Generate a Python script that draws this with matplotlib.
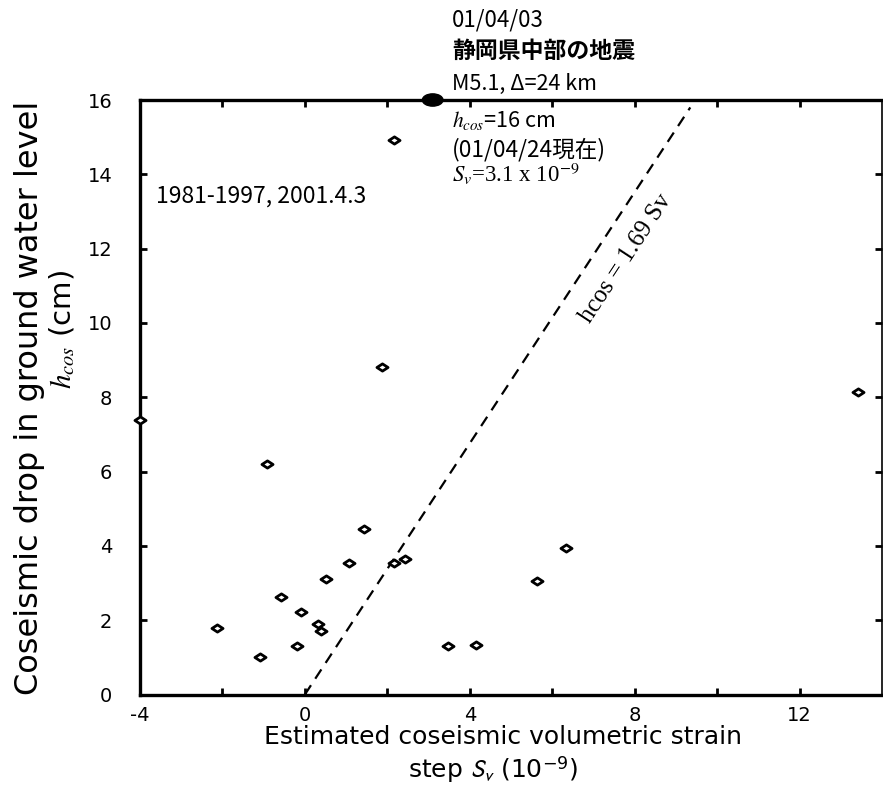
import numpy as np
import matplotlib
matplotlib.use("Agg")
import matplotlib.pyplot as plt
from matplotlib.path import Path
from matplotlib.patches import Ellipse

# coseismic strain step (1e-9) vs. water level drop (cm), 1981-1997 + 2001.4.3
sv = [-4.0, -2.12, -1.08, -0.92, -0.59, -0.19, -0.10, 0.32, 0.39, 0.50,
      1.08, 1.44, 1.86, 2.15, 2.15, 2.43, 3.47, 4.16, 5.64, 6.34, 13.41]
h_cos = [7.4, 1.80, 1.01, 6.20, 2.62, 1.31, 2.21, 1.91, 1.71, 3.12,
         3.54, 4.45, 8.82, 14.93, 3.54, 3.64, 1.31, 1.33, 3.06, 3.94, 8.14]

# 2001/04/03 event
event_sv = 3.1
event_h = 16.0

slope = 1.69
fit_top = 15.8

x_major = [-4, 0, 4, 8, 12]
x_minor = [-2, 2, 6, 10]
y_ticks = [0, 2, 4, 6, 8, 10, 12, 14, 16]

plt.rcParams["font.family"] = ["DejaVu Sans"]
JP = ["Noto Sans CJK JP", "DejaVu Sans"]

fig = plt.figure(figsize=(8.83, 8.0), dpi=100)
W, H = 883, 800
ax = fig.add_axes([140 / W, 1 - 694.5 / H, (882 - 140) / W, (694.5 - 100) / H])

ax.set_xlim(-4, 14)
ax.set_ylim(0, 16)

for s in ax.spines.values():
    s.set_linewidth(2.4)
ax.spines["right"].set_linewidth(1.2)

ax.set_xticks(x_major)
ax.set_xticks(x_minor, minor=True)
ax.set_yticks(y_ticks)
ax.set_xticklabels([str(v) for v in x_major])
ax.tick_params(axis="both", which="both", direction="in", length=5, width=2,
               top=True, right=True, labelsize=14)
ax.tick_params(axis="x", pad=8)
ax.tick_params(axis="y", pad=20)

# wide open diamond
diamond = Path([(-1, 0), (0, 0.65), (1, 0), (0, -0.65), (-1, 0)],
               [Path.MOVETO, Path.LINETO, Path.LINETO, Path.LINETO, Path.CLOSEPOLY])
ax.plot(sv, h_cos, linestyle="none", marker=diamond, markersize=8,
        markerfacecolor="white", markeredgecolor="black", markeredgewidth=2.0,
        clip_on=False, zorder=4)

ax.add_patch(Ellipse((event_sv, event_h), 0.5, 0.33, facecolor="black",
                     edgecolor="black", clip_on=False, zorder=5))

# fitted relation
fx = np.array([0, fit_top / slope])
ax.plot(fx, slope * fx, color="black", linestyle=(0, (5, 3.5)), linewidth=1.6)
ax.text(7.55, 11.9, r"hcos = 1.69 Sv", family="Liberation Serif", fontsize=18,
        rotation=np.degrees(np.arctan(slope)), transform_rotates_text=True,
        rotation_mode="anchor", ha="center", va="top")

ax.text(-3.62, 13.4, "1981-1997, 2001.4.3", fontsize=16.5, family=JP, va="center")

# event annotation above the frame
tx = 452 / W
fig.text(tx, 1 - 20 / H, "01/04/03", fontsize=16, family=JP, va="center")
fig.text(tx, 1 - 51 / H, "静岡県中部の地震", fontsize=16.5, family=JP,
         va="center", fontweight="bold")
fig.text(tx, 1 - 84 / H, "M5.1, Δ=24 km", fontsize=15.5, family=JP, va="center")
fig.text(tx, 1 - 120 / H, r"$h_{cos}$=16 cm", fontsize=15.5, family=JP,
         va="center", math_fontfamily="stix")
fig.text(tx, 1 - 150 / H, "(01/04/24現在)", fontsize=16.3, family=JP, va="center")
fig.text(tx, 1 - 174 / H, r"$S_v$=3.1 x 10$^{-9}$", fontsize=16.5,
         family="Liberation Serif", va="center", math_fontfamily="stix")

# axis titles
fig.text(30 / W, 1 - 398 / H, "Coseismic drop in ground water level",
         fontsize=23, rotation=90, ha="center", va="center")
fig.text(62 / W, 1 - 330 / H, r"$h_{cos}$ (cm)", fontsize=21, rotation=90,
         ha="center", va="center", math_fontfamily="stix")
fig.text(503 / W, 1 - 737 / H, "Estimated coseismic volumetric strain",
         fontsize=18, ha="center", va="center")
fig.text(493 / W, 1 - 770 / H, r"step $S_v$ (10$^{\mathregular{-9}}$)",
         fontsize=18, ha="center", va="center", math_fontfamily="stixsans")

fig.savefig("out.png", dpi=100)
